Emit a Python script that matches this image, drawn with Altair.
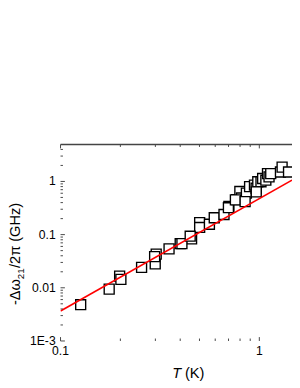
import altair as alt
import pandas as pd

# ---- data ----
T_vals = [0.1263, 0.1757, 0.1983, 0.2012, 0.2557, 0.2995, 0.3029, 0.2974, 0.3515, 0.3999,
          0.4563, 0.501, 0.501, 0.561, 0.5933, 0.6643, 0.7029, 0.699, 0.7691, 0.798,
          0.8134, 0.8608, 0.8933, 0.9452, 0.9634, 0.9822, 1.0193, 1.039, 1.0784, 1.0993,
          1.119, 1.141, 1.2771, 1.3018, 1.4025, 0.7578, 0.8482, 0.965, 0.408, 0.449]
dw_vals = [0.00481, 0.00944, 0.01663, 0.01439, 0.02426, 0.02823, 0.04305, 0.03855, 0.054, 0.06755,
           0.08331, 0.1684, 0.1364, 0.1567, 0.2078, 0.2388, 0.3388, 0.3208, 0.455, 0.6479,
           0.4887, 0.6033, 0.8, 0.8555, 0.7447, 0.9874, 0.987, 1.135, 1.056, 1.401,
           1.219, 1.401, 1.504, 1.857, 1.504, 0.4493, 0.418, 0.637, 0.0676, 0.0934]

fit_T = [0.1, 1.46]
fit_dw = [0.00366, 1.06]

x_major = [0.1, 1]
x_labels = ["0.1", "1"]
y_major = [0.001, 0.01, 0.1, 1]
y_labels = ["1E-3", "0.01", "0.1", "1"]
x_minor = [m / 10 for m in range(2, 10)]
y_minor = [m * 10 ** e for e in (-3, -2, -1, 0) for m in range(2, 10) if m * 10 ** e <= 4.9]

W, H = 238, 202
FONT = "Liberation Sans"
AX = "#444444"

xs = alt.Scale(type="log", domain=[0.1, 1.46], nice=False, zero=False)
ys = alt.Scale(type="log", domain=[0.001, 4.95], nice=False, zero=False)

df = pd.DataFrame({"x": T_vals, "y": dw_vals})
points = alt.Chart(df).mark_square(
    size=105, fill="white", stroke="black", strokeWidth=1.4, opacity=1
).encode(
    x=alt.X("x:Q", scale=xs, axis=alt.Axis(
        labels=False, ticks=False, grid=False, title=None,
        domainColor=AX, domainWidth=1.6)),
    y=alt.Y("y:Q", scale=ys, axis=alt.Axis(
        labels=False, ticks=False, grid=False, title=None,
        domainColor=AX, domainWidth=1.6)),
)

fit = alt.Chart(pd.DataFrame({"x": fit_T, "y": fit_dw})).mark_line(
    color="#ff0000", strokeWidth=1.7, clip=True
).encode(x=alt.X("x:Q", scale=xs, axis=None), y=alt.Y("y:Q", scale=ys, axis=None))


def xticks(vals, length):
    d = pd.DataFrame({"x": vals})
    bot = alt.Chart(d).mark_rule(color=AX, strokeWidth=1).encode(
        x=alt.X("x:Q", scale=xs, axis=None), y=alt.value(H), y2=alt.value(H - length))
    top = alt.Chart(d).mark_rule(color=AX, strokeWidth=1).encode(
        x=alt.X("x:Q", scale=xs, axis=None), y=alt.value(0), y2=alt.value(length))
    return [bot, top]


def yticks(vals, length):
    d = pd.DataFrame({"y": vals})
    return [alt.Chart(d).mark_rule(color=AX, strokeWidth=1).encode(
        y=alt.Y("y:Q", scale=ys, axis=None), x=alt.value(0), x2=alt.value(length))]


xlab = alt.Chart(pd.DataFrame({"x": x_major, "lab": x_labels})).mark_text(
    font=FONT, fontSize=12.5, align="center", baseline="top", color="black"
).encode(x=alt.X("x:Q", scale=xs, axis=None), y=alt.value(H + 4), text="lab:N")

ylab = alt.Chart(pd.DataFrame({"y": y_major, "lab": y_labels})).mark_text(
    font=FONT, fontSize=12.5, align="right", baseline="middle", color="black"
).encode(y=alt.Y("y:Q", scale=ys, axis=None), x=alt.value(-5), text="lab:N")

top_border = alt.Chart(pd.DataFrame({"a": [0]})).mark_rule(color=AX, strokeWidth=1.6).encode(
    x=alt.value(0), x2=alt.value(W), y=alt.value(0))


def txt(s, x, y, size=15, angle=0, style="normal"):
    return alt.Chart(pd.DataFrame({"t": [s]})).mark_text(
        font=FONT, fontSize=size, angle=angle, align="left", baseline="alphabetic",
        fontStyle=style, color="black"
    ).encode(text="t:N", x=alt.value(x), y=alt.value(y))


titles = [
    txt("T", 115, 240, style="italic"),
    txt("(K)", 128, 240),
    txt("-\u0394\u03c9", -42, 165, angle=270),
    txt("21", -38, 138.5, size=10, angle=270),
    txt("/2\u03c0 (GHz)", -42, 127, angle=270),
]

layers = [points, fit] + xticks(x_major, 4) + xticks(x_minor, 2.5) + yticks(y_major, 4.5) \
    + yticks(y_minor, 2.5) + [top_border, xlab, ylab] + titles

chart = alt.layer(*layers).properties(
    width=W, height=H,
    autosize=alt.AutoSizeParams(type="none"),
    padding={"left": 54, "top": 135, "right": 0, "bottom": 43},
).configure_view(stroke=None)

chart.save("out.html", embed_options={"renderer": "svg", "actions": False})
